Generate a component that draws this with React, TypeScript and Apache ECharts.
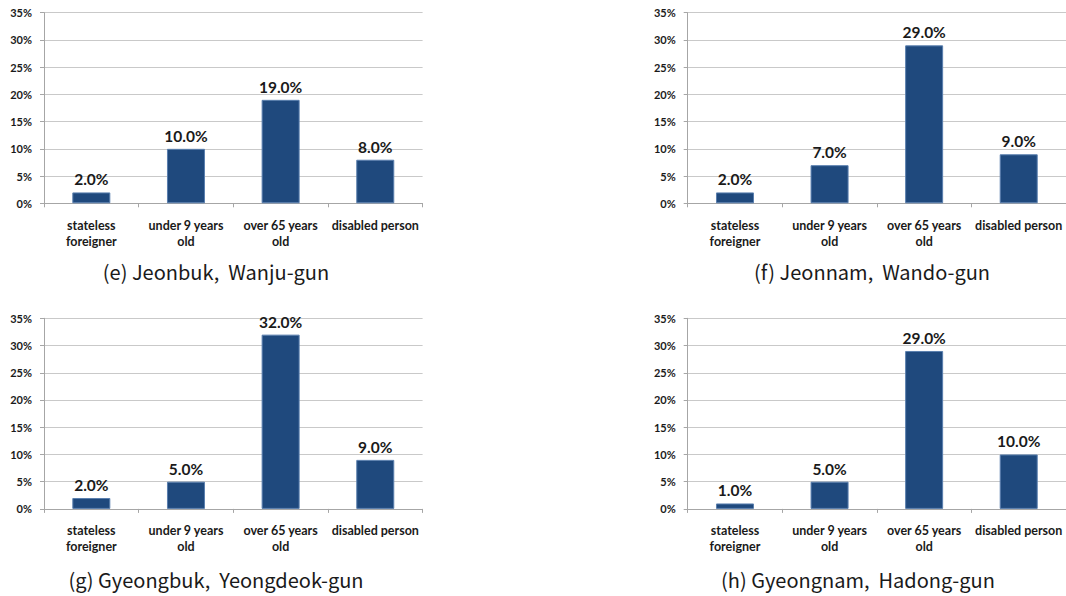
import React, { useEffect, useRef } from "react";
import * as echarts from "echarts";

const categories = [
  "stateless\nforeigner",
  "under 9 years\nold",
  "over 65 years\nold",
  "disabled person",
];

const wanju = [2, 10, 19, 8];
const wando = [2, 7, 29, 9];
const yeongdeok = [2, 5, 32, 9];
const hadong = [1, 5, 29, 10];

const panelTitles = [
  "(e) Jeonbuk,  Wanju-gun",
  "(f) Jeonnam,  Wando-gun",
  "(g) Gyeongbuk,  Yeongdeok-gun",
  "(h) Gyeongnam,  Hadong-gun",
];

const yTicks = { min: 0, max: 35, interval: 5 };

const panels = [
  { data: wanju, left: 44, top: 12.7, titleX: 216, titleY: 261 },
  { data: wando, left: 687.7, top: 12.7, titleX: 872, titleY: 261 },
  { data: yeongdeok, left: 44, top: 318.3, titleX: 216, titleY: 569 },
  { data: hadong, left: 687.7, top: 318.3, titleX: 858, titleY: 569 },
];

const PLOT_W = 378.6;
const PLOT_H = 190.6;
const LABEL_FONT = "Lato, 'Liberation Sans', sans-serif";

export default function App() {
  const ref = useRef<HTMLDivElement>(null);

  useEffect(() => {
    if (!ref.current) return;
    const chart = echarts.init(ref.current, undefined, { renderer: "svg" });

    const option: any = {
      animation: false,
      backgroundColor: "#ffffff",
      title: panels.map((p, i) => ({
        text: panelTitles[i],
        left: p.titleX,
        top: p.titleY,
        textAlign: "center",
        padding: 0,
        textStyle: {
          fontFamily: "'Noto Sans CJK KR', 'Noto Sans', sans-serif",
          fontWeight: "normal",
          fontSize: 20,
          color: "#1a1a1a",
        },
      })),
      grid: panels.map((p) => ({
        left: p.left,
        top: p.top,
        width: PLOT_W,
        height: PLOT_H,
        containLabel: false,
      })),
      xAxis: panels.map((_, i) => ({
        type: "category",
        gridIndex: i,
        data: categories,
        axisLine: { show: true, lineStyle: { color: "#a6a6a6", width: 1 } },
        axisTick: { show: true, length: 4, lineStyle: { color: "#a6a6a6" } },
        axisLabel: {
          interval: 0,
          margin: 14,
          fontFamily: LABEL_FONT,
          fontWeight: "bold",
          fontSize: 12.5,
          lineHeight: 16,
          color: "#1a1a1a",
        },
      })),
      yAxis: panels.map((_, i) => ({
        type: "value",
        gridIndex: i,
        min: yTicks.min,
        max: yTicks.max,
        interval: yTicks.interval,
        axisLine: { show: true, lineStyle: { color: "#a6a6a6", width: 1 } },
        axisTick: { show: true, length: 4, lineStyle: { color: "#a6a6a6" } },
        splitLine: { show: true, lineStyle: { color: "#c9c9c9", width: 1 } },
        axisLabel: {
          margin: 12,
          formatter: "{value}%",
          fontFamily: LABEL_FONT,
          fontWeight: "bold",
          fontSize: 11,
          color: "#1a1a1a",
        },
      })),
      series: panels.map((p, i) => ({
        type: "bar",
        xAxisIndex: i,
        yAxisIndex: i,
        data: p.data,
        barWidth: 38,
        itemStyle: {
          color: "#1f497d",
          borderColor: "#5a7fae",
          borderWidth: 1,
        },
        label: {
          show: true,
          position: "top",
          distance: 5,
          formatter: (d: any) => `${Number(d.value).toFixed(1)}%`,
          fontFamily: LABEL_FONT,
          fontWeight: "bold",
          fontSize: 15.5,
          color: "#1a1a1a",
        },
      })),
    };

    chart.setOption(option);
    return () => chart.dispose();
  }, []);

  return (
    <div
      ref={ref}
      style={{ position: "fixed", left: 0, top: 0, width: 1066, height: 596 }}
    />
  );
}
